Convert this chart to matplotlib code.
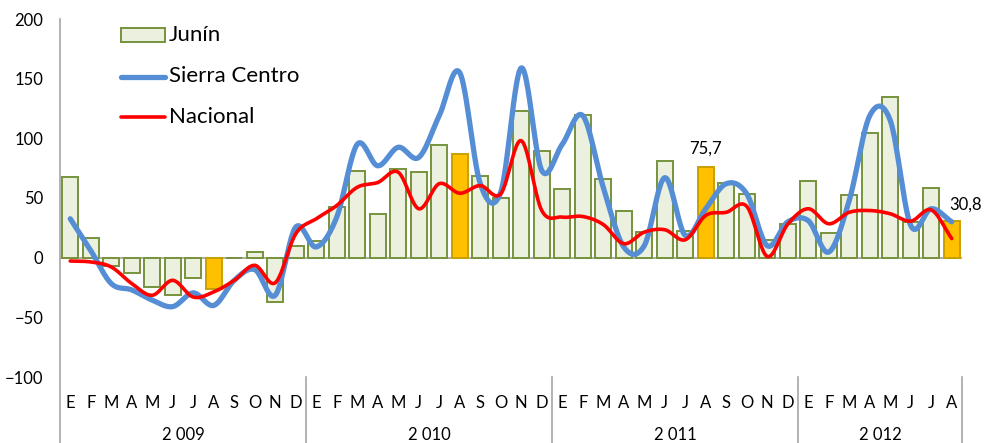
import numpy as np
import matplotlib
matplotlib.use("Agg")
import matplotlib.pyplot as plt
from matplotlib.patches import Rectangle
from matplotlib.lines import Line2D
import matplotlib.transforms as mtransforms

plt.rcParams['font.family'] = ['Lato', 'DejaVu Sans']

months = ["E", "F", "M", "A", "M", "J", "J", "A", "S", "O", "N", "D"] * 3 + \
         ["E", "F", "M", "A", "M", "J", "J", "A"]
years = ["2 009", "2 010", "2 011", "2 012"]
year_lengths = [12, 12, 12, 8]

junin = [67.4, 16.4, -7, -12.5, -25, -31, -16.7, -26, -0.5, 4.5, -37, 9.5,
         14, 42.3, 73, 36.8, 74, 71.6, 94.7, 86.9, 68.8, 49.6, 122.8, 89,
         57.4, 119.8, 66.3, 39, 21.4, 81, 22, 75.7, 62.4, 53.2, 15, 28.4,
         64.6, 20.9, 52.6, 104.2, 134.3, 29.8, 58.2, 30.8]
sierra = [32.6, 6, -21.7, -27, -35.6, -41, -29.5, -40, -19, -10, -31.5, 25.6,
          9, 34, 95, 77, 92.5, 84, 119, 155, 62, 55, 159, 73,
          95, 119, 59, 9, 10, 67, 18.7, 41, 62, 53.5, 10, 30,
          31, 4.7, 48, 119, 115, 27, 41, 30]
nacional = [-2.8, -3.6, -7.8, -21.7, -31.5, -19, -33, -28.7, -19, -6.4, -21, 20,
            32.6, 43.7, 59, 63, 71.6, 41, 62, 54, 60.4, 53.5, 98, 39.5,
            34, 34.5, 27.8, 11.7, 21.4, 23.4, 15, 35.4, 38, 43, 1, 28,
            41, 28.4, 38, 39.5, 36.8, 30.6, 40, 16]
highlight = [7, 19, 31, 43]
labels = {31: "75,7", 43: "30,8"}
series_names = ["Junín", "Sierra Centro", "Nacional"]


def smooth(y, n=24):
    y = np.asarray(y, float)
    x = np.arange(len(y), dtype=float)
    p = np.concatenate([[2 * y[0] - y[1]], y, [2 * y[-1] - y[-2]]])
    xs, ys = [], []
    for i in range(len(y) - 1):
        p0, p1, p2, p3 = p[i], p[i + 1], p[i + 2], p[i + 3]
        t = np.linspace(0, 1, n, endpoint=False)
        yy = 0.5 * ((2 * p1) + (-p0 + p2) * t + (2 * p0 - 5 * p1 + 4 * p2 - p3) * t ** 2
                    + (-p0 + 3 * p1 - 3 * p2 + p3) * t ** 3)
        xs.append(x[i] + t)
        ys.append(yy)
    xs.append([x[-1]])
    ys.append([y[-1]])
    return np.concatenate(xs), np.concatenate(ys)


W, H = 984, 443
fig = plt.figure(figsize=(W / 100, H / 100), dpi=100)
ax = fig.add_axes([60 / W, 1 - 377 / H, (962 - 60) / W, (377 - 19) / H])

BLUE = "#558ED5"
RED = "#FF0000"
BAR_FC, BAR_EC = "#EBF1DE", "#77933C"
HL_FC, HL_EC = "#FFC000", "#C9A000"

n = len(junin)
x = np.arange(n)
fc = [HL_FC if i in highlight else BAR_FC for i in range(n)]
ec = [HL_EC if i in highlight else BAR_EC for i in range(n)]
ax.bar(x, junin, width=0.76, color=fc, edgecolor=ec, linewidth=1.4, zorder=2)

xs, ys = smooth(sierra)
ax.plot(xs, ys, color=BLUE, linewidth=3.8, solid_capstyle="round", zorder=3)
xs, ys = smooth(nacional)
ax.plot(xs, ys, color=RED, linewidth=2.6, solid_capstyle="round", zorder=4)

for i, t in labels.items():
    if i == n - 1:
        ax.text(i + 0.68, 44.8, t, fontsize=12, ha="center", va="center")
    else:
        ax.text(i, 91.6, t, fontsize=12, ha="center", va="center")

ax.set_xlim(-0.5, n - 0.5)
ax.set_ylim(-100, 200)
ax.set_yticks([-100, -50, 0, 50, 100, 150, 200])
ax.tick_params(axis="y", length=0, labelsize=12, pad=12)
ax.set_xticks([])
for s in ["top", "right", "bottom", "left"]:
    ax.spines[s].set_visible(False)
ax.axhline(0, color="#A6A6A6", linewidth=1.3, zorder=1)

trans = mtransforms.blended_transform_factory(ax.transData, ax.transAxes)
bottom = -(443 - 377) / 358
ax.plot([-0.5, -0.5], [1, bottom], color="#A6A6A6", linewidth=1.2, transform=trans, clip_on=False)
pos = -0.5
for yl, ln in zip(years, year_lengths):
    ax.text(pos + ln / 2, -0.162, yl, transform=trans, ha="center", va="center", fontsize=12)
    pos += ln
    ax.plot([pos, pos], [0, bottom], color="#A6A6A6", linewidth=1.2, transform=trans, clip_on=False)
for i, m in enumerate(months):
    ax.text(i, -0.0726, m, transform=trans, ha="center", va="center", fontsize=12)

# legend drawn manually in figure pixel coordinates
def fy(py):
    return 1 - py / H

fig.add_artist(Rectangle((121 / W, fy(42)), 44 / W, 14 / H, transform=fig.transFigure,
                         facecolor=BAR_FC, edgecolor=BAR_EC, linewidth=1.4))
fig.add_artist(Line2D([121 / W, 165 / W], [fy(76.5), fy(76.5)], transform=fig.transFigure,
                      color=BLUE, linewidth=3.8, solid_capstyle="round"))
fig.add_artist(Line2D([121 / W, 165 / W], [fy(117), fy(117)], transform=fig.transFigure,
                      color=RED, linewidth=2.6, solid_capstyle="round"))
for name, py in zip(series_names, [35, 76, 117]):
    fig.text(169 / W, fy(py), name, fontsize=16, ha="left", va="center")

fig.savefig("out.png", dpi=100)
